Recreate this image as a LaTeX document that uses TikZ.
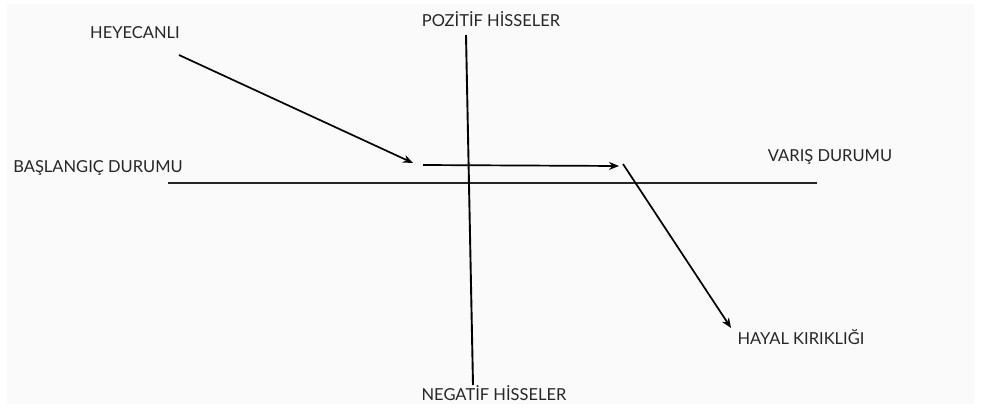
\documentclass[tikz,border=0pt]{standalone}
\usepackage{fontspec}
\setmainfont{Lato}
\usetikzlibrary{arrows.meta}
\begin{document}
\begin{tikzpicture}[x=1pt,y=-1pt,
	etiket/.style={font=\fontsize{16.5}{19}\selectfont, text=black!85},
	ok/.style={-{Stealth[length=10pt,width=8pt]}, line width=1.7pt}]
\useasboundingbox (0,0) rectangle (981,410);
\fill[white] (0,0) rectangle (981,410);
\fill[black!2] (7,4) rectangle (975,404);
% eksenler
\coordinate (bas) at (168,183);
\coordinate (var) at (817,183);
\coordinate (ust) at (466,35);
\coordinate (alt) at (473,385);
\draw[line width=2.6pt, black!85] (bas) -- (var);
\draw[line width=1.9pt] (ust) -- (alt);
\node[etiket] (baslangic) at (98,168) {BAŞLANGIÇ DURUMU};
\node[etiket] (varis) at (830,157) {VARIŞ DURUMU};
\node[etiket] (pozitif) at (491,19) {POZİTİF HİSSELER};
\node[etiket] (negatif) at (494,393) {NEGATİF HİSSELER};
\node[etiket] (heyecanli) at (135,33) {HEYECANLI};
\node[etiket] (hayal) at (801,337) {HAYAL KIRIKLIĞI};
% oklar
\coordinate (a1) at (179,55);
\coordinate (a2) at (413,163);
\coordinate (b1) at (423,165);
\coordinate (b2) at (619,166);
\coordinate (c1) at (623,164);
\coordinate (c2) at (731,328);
\draw[ok] (a1) -- (a2);
\draw[ok] (b1) -- (b2);
\draw[ok] (c1) -- (c2);
\end{tikzpicture}
\end{document}
